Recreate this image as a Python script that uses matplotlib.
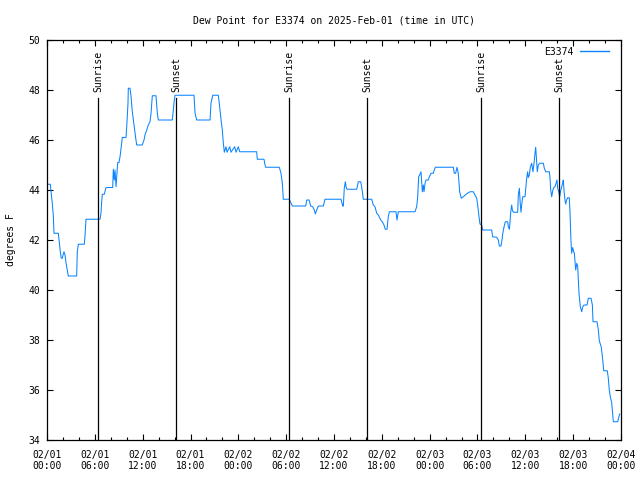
import matplotlib
matplotlib.use("Agg")
import matplotlib.pyplot as plt

# dew point readings, hours since 2025-02-01 00:00 UTC
hours = [0.09, 0.41, 0.66, 0.79, 0.88, 1.42, 1.51, 1.67, 1.79, 1.92, 2.01, 2.13, 2.26, 2.38,
         2.59, 2.67, 3.72, 3.80, 3.93, 4.68, 4.77, 4.89, 6.65, 6.77, 6.86, 6.94, 7.19, 7.36,
         7.49, 8.24, 8.32, 8.44, 8.53, 8.66, 8.74, 8.87, 9.03, 9.16, 9.37, 9.45, 9.91, 10.0,
         10.16, 10.2, 10.41, 10.54, 10.70, 10.83, 10.95, 11.13, 11.25, 11.95, 12.17, 12.29,
         12.51, 12.71, 12.92, 13.05, 13.21, 13.67, 13.84, 13.96, 15.72, 15.84, 15.97, 16.06,
         18.44, 18.57, 18.78, 20.45, 20.57, 20.79, 21.49, 21.61, 21.74, 21.86, 21.99, 22.12,
         22.24, 22.45, 22.58, 22.92, 23.08, 23.54, 23.71, 24.0, 24.17, 26.30, 26.38, 27.22,
         27.35, 27.43, 29.14, 29.35, 29.52, 29.64, 30.39, 30.57, 30.77, 32.45, 32.58, 32.87,
         33.08, 33.33, 33.53, 33.66, 33.83, 34.03, 34.66, 34.87, 36.88, 37.09, 37.17, 37.29,
         37.42, 37.51, 37.63, 38.85, 39.05, 39.35, 39.47, 39.60, 39.68, 40.73, 40.93, 41.14,
         41.36, 41.56, 41.86, 42.06, 42.27, 42.44, 42.65, 42.81, 42.94, 43.78, 43.90, 44.07,
         46.16, 46.37, 46.50, 46.62, 46.79, 46.91, 47.08, 47.21, 47.29, 47.42, 47.54, 47.83,
         47.96, 48.17, 48.46, 48.58, 48.71, 50.97, 51.09, 51.26, 51.43, 51.59, 51.76, 51.97,
         52.22, 52.64, 53.06, 53.47, 53.90, 54.02, 54.19, 54.31, 54.52, 54.65, 55.78, 55.90,
         56.41, 56.61, 56.74, 56.95, 57.07, 57.16, 57.33, 57.49, 57.79, 57.87, 58.0, 58.08,
         58.17, 58.29, 58.37, 58.49, 59.04, 59.12, 59.25, 59.37, 59.46, 59.54, 59.67, 59.96,
         60.04, 60.17, 60.29, 60.37, 60.50, 60.63, 60.80, 60.96, 61.09, 61.21, 61.30, 61.43,
         61.50, 61.63, 61.80, 62.26, 62.38, 62.56, 63.01, 63.10, 63.18, 63.31, 63.43, 63.56,
         63.72, 63.85, 63.97, 64.06, 64.18, 64.31, 64.43, 64.56, 64.68, 64.76, 64.85, 64.97,
         65.06, 65.18, 65.31, 65.51, 65.60, 65.72, 65.81, 65.94, 66.06, 66.15, 66.32, 66.45,
         66.57, 66.73, 66.90, 67.07, 67.20, 67.36, 67.74, 67.90, 68.24, 68.41, 68.49, 68.99,
         69.16, 69.28, 69.53, 69.71, 69.83, 70.28, 70.41, 70.53, 70.66, 70.83, 70.96, 71.04,
         71.59, 71.71, 71.84]
dewpoint = [44.23, 44.23, 43.47, 43.0, 42.27, 42.27, 42.0, 41.53, 41.27, 41.27, 41.4, 41.53, 41.4, 41.1,
            40.7, 40.56, 40.56, 41.53, 41.83, 41.83, 42.17, 42.83, 42.83, 43.07, 43.53, 43.83, 43.83, 44.07,
            44.1, 44.1, 44.83, 44.4, 44.8, 44.13, 44.5, 45.1, 45.1, 45.33, 45.87, 46.1, 46.1, 46.53,
            47.47, 48.07, 48.07, 47.76, 47.13, 46.8, 46.53, 46.07, 45.8, 45.8, 46.0, 46.2,
            46.4, 46.6, 46.73, 47.07, 47.77, 47.77, 47.07, 46.8, 46.8, 47.2, 47.6, 47.79,
            47.79, 47.07, 46.8, 46.8, 47.47, 47.79, 47.79, 47.47, 47.07, 46.73, 46.4, 45.87,
            45.51, 45.73, 45.51, 45.73, 45.51, 45.73, 45.51, 45.73, 45.53, 45.53, 45.23, 45.23,
            45.0, 44.91, 44.91, 44.67, 44.27, 43.63, 43.63, 43.5, 43.36, 43.36, 43.6, 43.6,
            43.36, 43.33, 43.2, 43.04, 43.2, 43.36, 43.36, 43.63, 43.63, 43.36, 43.36, 44.07,
            44.33, 44.13, 44.03, 44.03, 44.33, 44.33, 44.13, 43.8, 43.63, 43.63, 43.4, 43.33,
            43.07, 43.0, 42.8, 42.73, 42.6, 42.43, 42.43, 42.93, 43.13, 43.13, 42.8, 43.13,
            43.13, 43.33, 43.73, 44.53, 44.63, 44.73, 43.93, 44.2, 43.93, 44.27, 44.4, 44.4,
            44.53, 44.67, 44.67, 44.8, 44.91, 44.91, 44.67, 44.67, 44.91, 44.67, 43.93, 43.67,
            43.73, 43.85, 43.93, 43.93, 43.67, 43.4, 42.93, 42.64, 42.6, 42.4, 42.4, 42.13,
            42.11, 42.0, 41.76, 41.76, 42.0, 42.24, 42.53, 42.73, 42.73, 42.53, 42.43, 42.73,
            43.13, 43.4, 43.2, 43.11, 43.11, 43.8, 44.07, 43.4, 43.11, 43.4, 43.73, 43.73,
            44.0, 44.47, 44.73, 44.5, 44.6, 44.91, 45.07, 44.73, 45.07, 45.47, 45.71, 45.07,
            44.73, 45.0, 45.07, 45.07, 44.87, 44.73, 44.73, 44.47, 44.0, 43.73, 43.97, 44.1,
            44.13, 44.27, 44.4, 44.07, 43.93, 43.73, 43.97, 44.13, 44.27, 44.4, 43.97, 43.6,
            43.44, 43.6, 43.69, 43.69, 43.13, 42.0, 41.47, 41.7, 41.53, 41.47, 40.8, 41.07,
            40.93, 39.87, 39.33, 39.13, 39.33, 39.4, 39.4, 39.67, 39.67, 39.4, 38.73, 38.73,
            38.4, 37.97, 37.71, 37.2, 36.77, 36.77, 36.47, 36.0, 35.73, 35.5, 35.0, 34.73,
            34.73, 34.9, 35.04]

sun_hours = [6.43, 16.22, 30.39, 40.14, 54.48, 64.26]
sun_labels = ["Sunrise", "Sunset", "Sunrise", "Sunset", "Sunrise", "Sunset"]

xtick_hours = [0, 6, 12, 18, 24, 30, 36, 42, 48, 54, 60, 66, 72]
xtick_labels = ["02/01\n00:00", "02/01\n06:00", "02/01\n12:00", "02/01\n18:00",
                "02/02\n00:00", "02/02\n06:00", "02/02\n12:00", "02/02\n18:00",
                "02/03\n00:00", "02/03\n06:00", "02/03\n12:00", "02/03\n18:00",
                "02/04\n00:00"]
yticks = [34, 36, 38, 40, 42, 44, 46, 48, 50]

plt.rcParams["font.family"] = "DejaVu Sans Mono"
plt.rcParams["font.size"] = 7

fig = plt.figure(figsize=(6.4, 4.8), dpi=100)
ax = fig.add_axes([47/640, 40/480, 574/640, 400/480])

ax.plot(hours, dewpoint, color="#0a84ff", lw=0.75, label="E3374")

for h, lab in zip(sun_hours, sun_labels):
    ax.axvline(h, ymin=0, ymax=0.855, color="black", lw=0.9)
    ax.text(h, 47.92, lab, rotation=90, ha="center", va="bottom", fontsize=7)

ax.set_xlim(0, 72)
ax.set_ylim(34, 50)
ax.set_xticks(xtick_hours)
ax.set_xticklabels(xtick_labels)
ax.set_xticks(range(0, 73, 2), minor=True)
ax.set_yticks(yticks)
ax.tick_params(which="both", direction="in", top=True, right=True, width=0.8)
ax.tick_params(which="major", length=4.5)
ax.tick_params(which="minor", length=2.5)
ax.tick_params(axis="x", which="major", pad=7)
ax.tick_params(axis="y", which="major", pad=5)
for s in ax.spines.values():
    s.set_linewidth(0.9)

ax.set_ylabel("degrees F", labelpad=9)
ax.set_title("Dew Point for E3374 on 2025-Feb-01 (time in UTC)", fontsize=7, pad=12)

leg = ax.legend(loc="upper right", bbox_to_anchor=(1 - 5/574, 1), frameon=False,
                handlelength=3.0, handletextpad=0.7, borderaxespad=0.3, markerfirst=False)
for line in leg.get_lines():
    line.set_linewidth(1.0)

fig.savefig("out.png", dpi=100)
